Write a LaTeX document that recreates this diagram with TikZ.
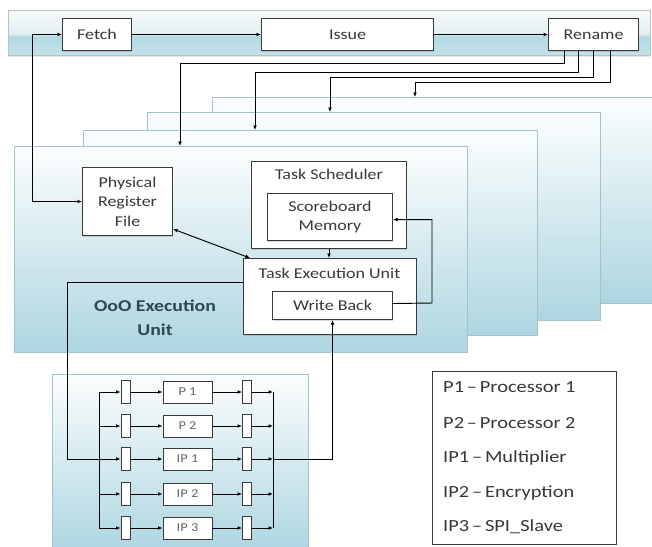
\documentclass[tikz,border=0pt]{standalone}
\usepackage{fontspec}
\newfontfamily\calfont[FakeStretch=1.2]{Carlito}
\usetikzlibrary{arrows.meta,shadows}

\definecolor{pantop}{HTML}{FBFDFD}
\definecolor{panbot}{HTML}{AED6E1}
\definecolor{panedge}{HTML}{A3C3CB}
\definecolor{boxedge}{HTML}{3A3A3A}
\definecolor{txt}{HTML}{383838}
\definecolor{oootxt}{HTML}{2C4852}
\definecolor{bartop}{HTML}{F6FAFB}
\definecolor{barmid}{HTML}{E2EFF2}
\definecolor{barlow}{HTML}{B3D9E3}
\definecolor{barbot}{HTML}{C2E2EA}

% glassy banner: pale upper half, blue lower half
\pgfdeclareverticalshading{bannershade}{100bp}{%
  color(0bp)=(barbot); color(25bp)=(barbot); color(46bp)=(barlow);
  color(49bp)=(barmid); color(75bp)=(bartop); color(100bp)=(bartop)}

\begin{document}
\begin{tikzpicture}[x=1pt,y=-1pt,
  line/.style={draw=black, line width=0.95pt},
  tip/.tip={Latex[length=4.5pt,width=3.8pt]},
  arr/.style={line, -tip},
  arrb/.style={line, tip-tip},
  panel/.style={draw=panedge, line width=0.7pt, top color=pantop,
    bottom color=panbot, inner sep=0pt, anchor=north west},
  box/.style={draw=boxedge, line width=1.05pt, fill=white, inner sep=0pt,
    anchor=north west, align=center, text=txt,
    font=\calfont\fontsize{15}{19.5}\selectfont,
    drop shadow={shadow xshift=0.5pt, shadow yshift=-1.2pt, opacity=0.3}},
  lbl/.style={text=txt, inner sep=0pt, font=\calfont\fontsize{15}{19.5}\selectfont},
  reg/.style={draw=boxedge, line width=0.9pt, fill=white, inner sep=0pt,
    minimum width=9pt, minimum height=23pt},
  pbox/.style={draw=boxedge, line width=0.9pt, fill=white, inner sep=0pt,
    minimum width=49pt, minimum height=22pt, text=black!60,
    font=\calfont\fontsize{12}{12}\selectfont},
  legtxt/.style={anchor=west, inner sep=0pt, text=txt,
    font=\calfont\fontsize{17}{20}\selectfont},
]
\useasboundingbox (0,0) rectangle (652,546);
\clip (0,0) rectangle (652,546);
\fill[white] (0,0) rectangle (652,546);

% ---------- front-end banner ----------
\node[draw=black!25, line width=0.6pt, shade, shading=bannershade,
  inner sep=0pt, anchor=north west, minimum width=642pt, minimum height=45pt,
  drop shadow={shadow xshift=0pt, shadow yshift=-1.5pt, opacity=0.2}]
  (bar) at (8,10) {};
\node[box, minimum width=69pt, minimum height=32pt] (fetch) at (62,18) {Fetch};
\node[box, minimum width=172pt, minimum height=32pt] (issue) at (261,18) {Issue};
\node[box, minimum width=90pt, minimum height=32pt] (rename) at (548,18) {Rename};
\draw[arr] (fetch.east) -- (issue.west);
\draw[arr] (issue.east) -- (rename.west);

% ---------- stacked execution panels, back to front ----------
\node[panel, minimum width=460pt, minimum height=206pt] (pan4) at (212,97) {};
\node[panel, minimum width=453pt, minimum height=208pt] (pan3) at (147,112) {};
\node[panel, minimum width=454pt, minimum height=205pt] (pan2) at (83,130) {};
\node[panel, minimum width=453pt, minimum height=206pt] (pan1) at (14,146) {};

% rename dispatch lines
\draw[arr] ([xshift=16pt]rename.south west) |- (180,63) -- (180,63 |- pan1.north);
\draw[arr] ([xshift=30pt]rename.south west) |- (255,72) -- (255,72 |- pan2.north);
\draw[arr] ([xshift=45pt]rename.south west) |- (330,77) -- (330,77 |- pan3.north);
\draw[arr] ([xshift=62pt]rename.south west) |- (415,82) -- (415,82 |- pan4.north);

% ---------- front panel contents ----------
\node[box, minimum width=90pt, minimum height=68pt] (prf) at (82,167)
  {Physical\\Register\\File};
\node[box, minimum width=155pt, minimum height=87pt] (sched) at (251,161) {};
\node[lbl] (schedl) at (329,174) {Task Scheduler};
\node[box, minimum width=125pt, minimum height=47pt] (sb) at (267,193)
  {Scoreboard\\Memory};
\node[box, minimum width=173pt, minimum height=76pt] (teu) at (243,258) {};
\node[lbl] (teul) at (329.5,273) {Task Execution Unit};
\node[box, minimum width=120pt, minimum height=28pt] (wb) at (272,291) {Write Back};

\node[text=oootxt, align=center, inner sep=0pt,
  font=\calfont\bfseries\fontsize{16.5}{24}\selectfont] (ooo) at (155,318)
  {OoO Execution\\Unit};

\draw[arrb] (fetch.west) -- (32,34 |- fetch.west) |- (prf.west);
\draw[arrb] ([yshift=7pt]prf.south east) -- ([xshift=7pt]teu.north west);
\draw[arr] (sched.south) -- (sched.south |- teu.north);
\draw[arr] ([yshift=2pt]wb.east) -- (432,303) |- ([yshift=-2.5pt]sb.east);

% ---------- processing-element array ----------
\node[panel, minimum width=256pt, minimum height=176pt] (ippan) at (52,374) {};

\foreach \yy/\txt/\n in {392/P 1/a, 426/P 2/b, 459/IP 1/c, 494/IP 2/d, 528/IP 3/e}{
  \coordinate (lbus\n) at (99,\yy);
  \coordinate (rbus\n) at (273,\yy);
  \node[reg] (inr\n) at (125.5,\yy) {};
  \node[pbox] (pb\n) at (187.5,\yy) {\txt};
  \node[reg] (outr\n) at (247,\yy) {};
  \draw[arr] (lbus\n) -- (inr\n.west);
  \draw[arr] (inr\n.east) -- (pb\n.west);
  \draw[arr] (pb\n.east) -- (outr\n.west);
  \draw[arr] (outr\n.east) -- (rbus\n);
}
\draw[line] (lbusa) -- (lbuse);
\draw[line] (rbusa) -- (rbuse);

% issue path into the array and results back to write-back
\draw[line] ([yshift=-24pt]teu.north west) -- (67,282) |- (lbusc);
\draw[arr] (rbusc) -| (wb.south);

% ---------- legend ----------
\node[draw=boxedge, line width=1pt, fill=white, inner sep=0pt, anchor=north west,
  minimum width=184pt, minimum height=173pt] (leg) at (432,371) {};
\node[legtxt] (l1) at (443,387) {P1\,–\,Processor 1};
\node[legtxt] (l2) at (443,423) {P2\,–\,Processor 2};
\node[legtxt] (l3) at (443,458) {IP1\,–\,Multiplier};
\node[legtxt] (l4) at (443,493) {IP2\,–\,Encryption};
\node[legtxt] (l5) at (443,527) {IP3\,–\,SPI\_Slave};
\end{tikzpicture}
\end{document}
